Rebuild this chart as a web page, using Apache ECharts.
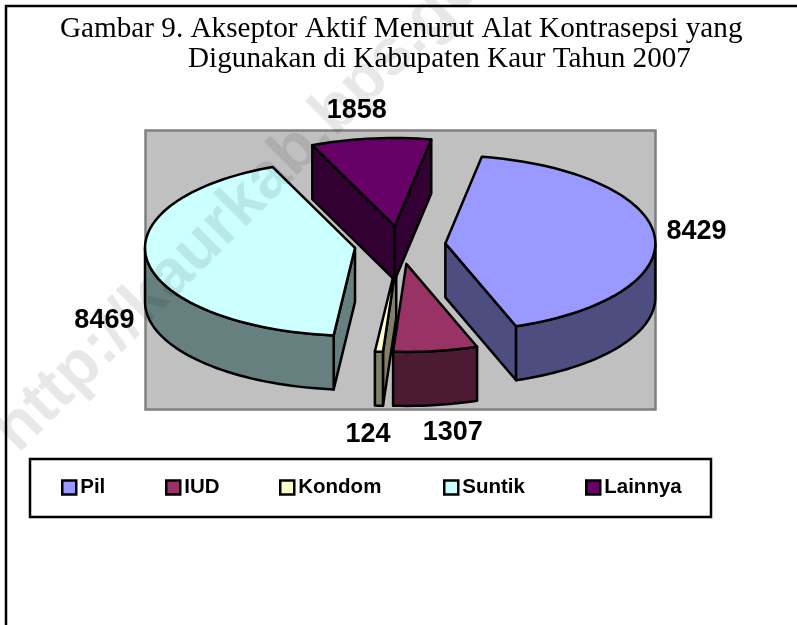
<!DOCTYPE html>
<html><head><meta charset="utf-8">
<script src="https://cdn.jsdelivr.net/npm/echarts@6/dist/echarts.min.js"></script>
<style>html,body{margin:0;padding:0;background:#fff}#c{width:797px;height:625px}</style>
</head><body><div id="c"></div>
<script>
const categories = ['Pil','IUD','Kondom','Suntik','Lainnya'];
const values = [8429,1307,124,8469,1858];
const topColors = ['#9999FF','#993366','#FFFFCC','#CCFFFF','#660066'];
const sideColors = ['#4D4D80','#4D1A33','#808066','#668080','#330033'];
const labelOffsets = [[42,-4],[17,82],[-11,83],[-43,59],[-14,-28]];
const legendLefts = [61,165,279,443,585];
const titleLines = ['Gambar 9. Akseptor Aktif Menurut Alat Kontrasepsi yang','Digunakan di Kabupaten Kaur Tahun 2007'];

const firstAngle = 10, cx = 400, cy = 245, rx = 210, ry = 88, depth = 54, explode = 45.5;
const total = values.reduce((a,b)=>a+b,0);
const rad = d => d*Math.PI/180;
let acc = firstAngle;
const spans = values.map(v => { const s = acc, e = acc + v/total*360; acc = e; return [s,e]; });

function arcPts(ax, ay, a0, a1, dy) {
  const pts = [], n = Math.max(2, Math.ceil((a1-a0)/2));
  for (let i=0;i<=n;i++){ const t = rad(a0+(a1-a0)*i/n); pts.push([ax+rx*Math.sin(t), ay+dy-ry*Math.cos(t)]); }
  return pts;
}
function sliceItem(idx) {
  return function(params, api) {
    const [s,e] = spans[idx], mid = rad((s+e)/2);
    const ax = cx + explode*Math.sin(mid), ay = cy - explode*(ry/rx)*Math.cos(mid);
    const stroke = {stroke:'#000', lineWidth:2.5, lineJoin:'round'};
    const kids = [];
    const poly = (points, fill) => kids.push({type:'polygon', shape:{points}, style:Object.assign({fill}, stroke)});
    const side = sideColors[idx];
    const face = a => {
      const t = rad(a), x = ax+rx*Math.sin(t), y = ay-ry*Math.cos(t);
      poly([[ax,ay],[x,y],[x,y+depth],[ax,ay+depth]], side);
    };
    const norm = a => ((a%360)+360)%360;
    if (norm(s) > 180) face(s);
    if (norm(e) < 180) face(e);
    const w0 = Math.max(s,90), w1 = Math.min(e,270);
    if (w1 > w0) poly(arcPts(ax,ay,w0,w1,0).concat(arcPts(ax,ay,w0,w1,depth).reverse()), side);
    poly([[ax,ay]].concat(arcPts(ax,ay,s,e,0)), topColors[idx]);
    const o = labelOffsets[idx], lm = arcPts(ax,ay,(s+e)/2,(s+e)/2+0.001,0)[0];
    kids.push({type:'text', style:{text:String(values[idx]), x:lm[0]+o[0], y:lm[1]+o[1], align:'center', verticalAlign:'middle', font:'bold 27px "Liberation Sans"', fill:'#000'}});
    return {type:'group', children:kids};
  };
}
const series = categories.map((name,i)=>({
  type:'custom', name, coordinateSystem:'none', data:[values[i]], renderItem:sliceItem(i),
  itemStyle:{color:topColors[i], borderColor:'#000', borderWidth:2}, silent:true, animation:false, z:3+i
}));
const legend = categories.map((name,i)=>({
  data:[{name, icon:'rect', itemStyle:{color:topColors[i], borderColor:'#000', borderWidth:2.5}}],
  left:legendLefts[i], top:477, itemWidth:14, itemHeight:14, itemGap:0, padding:0, selectedMode:false,
  textStyle:{fontFamily:'Liberation Sans', fontWeight:'bold', fontSize:20.5, color:'#000', padding:[0,0,0,-1]}
}));
const chart = echarts.init(document.getElementById('c'), null, {renderer:'canvas'});
chart.setOption({
  animation:false, backgroundColor:'#fff',
  title:[
    {text:titleLines[0], left:60, top:15, padding:0, textStyle:{fontFamily:'Liberation Serif', fontWeight:'normal', fontSize:29.2, color:'#000'}},
    {text:titleLines[1], left:188, top:45, padding:0, textStyle:{fontFamily:'Liberation Serif', fontWeight:'normal', fontSize:29.2, color:'#000'}}
  ],
  legend, series,
  graphic:[
    {type:'polyline', z:0, silent:true, shape:{points:[[6,625],[6,6],[797,6]]}, style:{stroke:'#000', lineWidth:2.5, fill:null}},
    {type:'rect', z:1, silent:true, shape:{x:145.5,y:130.5,width:510,height:279}, style:{fill:'#C0C0C0', stroke:'#808080', lineWidth:2.5}},
    {type:'rect', z:1, silent:true, shape:{x:30,y:459,width:681,height:58}, style:{fill:'#fff', stroke:'#000', lineWidth:2.5}},
    {type:'text', z:100, silent:true, x:266, y:181, rotation:Math.PI/4, style:{text:'http://kaurkab.bps.go.id', x:0, y:0, align:'center', verticalAlign:'middle', font:'bold 65px "Liberation Sans"', fill:'rgba(0,0,0,0.09)'}}
  ]
});
</script></body></html>
